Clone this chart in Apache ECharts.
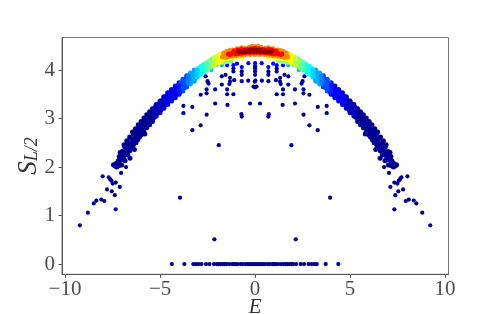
<!DOCTYPE html>
<html><head><meta charset="utf-8">
<style>html,body{margin:0;padding:0;background:#fff}#c{width:498px;height:314px}</style>
<script src="https://cdn.jsdelivr.net/npm/echarts@6/dist/echarts.min.js"></script>
</head><body><div id="c"></div>
<script>
const xTicks=[-10,-5,0,5,10];
const yTicks=[0,1,2,3,4];
const zeroRowE=[-4.38,-3.72,-3.25,-3.12,-2.98,-2.82,-2.58,-2.4,-2.16,-2.0,-1.93,-1.82,-1.7,-1.6,-1.5,-1.35,-1.2,-1.1,-1.0,-0.9,-0.75,-0.65,-0.5,-0.4,-0.3,-0.2,-0.1,0,0.1,0.2,0.3,0.4,0.5,0.65,0.75,0.9,1.0,1.1,1.2,1.35,1.5,1.6,1.7,1.82,1.93,2.0,2.16,2.4,2.58,2.82,2.98,3.12,3.25,3.72,4.38];
const sparseLeft=[[-9.22,0.80],[-8.8,1.06],[-8.49,1.25],[-8.35,1.31],[-8.09,1.33],[-7.93,1.30],[-7.79,1.54],[-8.02,1.81],[-7.7,1.79],[-7.63,1.75],[-7.56,1.72],[-7.49,1.66],[-7.33,1.68],[-7.54,1.50],[-7.12,1.59],[-7.38,1.42],[-7.33,1.13],[-7.05,1.88],[-6.79,2.0],[-3.95,1.37],[-2.14,0.51],[-1.91,2.45],[-3.3,2.76],[-2.86,2.86],[-3.77,3.26],[-3.77,3.11],[-3.3,3.24],[-2.55,3.08],[-2.1,3.31],[-1.45,3.28],[-0.72,3.09],[-0.7,3.04],[-0.26,3.31],[-2.86,3.49],[-2.55,3.6],[-2.55,3.52],[-2.1,3.6],[-1.47,3.6],[-1.47,3.5],[-1.14,3.5],[-2.6,3.87],[-2.5,3.77],[-2.45,3.72],[-1.75,3.87],[-1.75,3.7],[-1.55,3.9],[-1.32,3.84],[-1.32,3.76],[-1.35,3.71],[-1.1,3.79],[-0.7,3.77],[-0.36,3.78],[-1.14,4.03],[-1.14,3.97],[-0.7,3.97],[-0.7,3.9]];
const sparseRight=[[9.22,0.80],[8.8,1.06],[8.49,1.25],[8.35,1.31],[8.09,1.33],[7.93,1.30],[7.79,1.54],[8.02,1.81],[7.7,1.79],[7.63,1.75],[7.56,1.72],[7.49,1.66],[7.33,1.68],[7.54,1.50],[7.12,1.59],[7.38,1.42],[7.33,1.13],[7.05,1.88],[6.79,2.0],[3.95,1.37],[2.14,0.51],[1.91,2.45],[3.3,2.76],[2.86,2.86],[3.77,3.26],[3.77,3.11],[3.3,3.24],[2.55,3.08],[2.1,3.31],[1.45,3.28],[0.72,3.09],[0.7,3.04],[0.26,3.31],[2.86,3.49],[2.55,3.6],[2.55,3.52],[2.1,3.6],[1.47,3.6],[1.47,3.5],[1.14,3.5],[2.6,3.87],[2.5,3.77],[2.45,3.72],[1.75,3.87],[1.75,3.7],[1.55,3.9],[1.32,3.84],[1.32,3.76],[1.35,3.71],[1.1,3.79],[0.7,3.77],[0.36,3.78],[1.14,4.03],[1.14,3.97],[0.7,3.97],[0.7,3.9]];
const sparseCentre=[[0,3.64],[-0.08,3.66],[0.08,3.66],[-0.02,3.76],[0.02,3.78],[0,3.9],[0,3.97],[0,4.03],[0,4.08]];
const tierNavy=[[-7.45,2.05],[-7.38,2.02],[-7.3,2.08],[-7.28,2.0],[-7.2,2.13],[-7.15,2.03],[-7.1,2.15],[-7.02,2.04],[-6.98,2.25],[-6.95,2.15],[-6.88,2.28],[-6.84,2.13],[-6.8,2.3],[-6.75,2.35],[-6.7,2.25],[-6.65,2.42],[-6.6,2.33],[-6.58,2.18],[-6.52,2.48],[-6.48,2.4],[-6.42,2.55],[-6.4,2.46],[-6.35,2.36],[-6.3,2.6],[-6.27,2.5],[-6.2,2.66],[-6.18,2.56],[-6.12,2.72],[-6.08,2.62],[-6.03,2.76],[-6.0,2.68],[-5.95,2.86],[-5.92,2.75],[-5.86,2.9],[-5.83,2.8],[-5.8,2.68],[-5.75,2.94],[-5.7,2.85],[-5.65,2.98],[-5.6,2.9],[-5.55,3.05],[-5.5,2.95],[-5.45,3.08],[-5.4,3.0],[-5.35,3.12],[-5.3,3.03],
[7.45,2.05],[7.38,2.02],[7.3,2.08],[7.28,2.0],[7.2,2.13],[7.15,2.03],[7.1,2.15],[7.02,2.04],[6.98,2.25],[6.95,2.15],[6.88,2.28],[6.84,2.13],[6.8,2.3],[6.75,2.35],[6.7,2.25],[6.65,2.42],[6.6,2.33],[6.58,2.18],[6.52,2.48],[6.48,2.4],[6.42,2.55],[6.4,2.46],[6.35,2.36],[6.3,2.6],[6.27,2.5],[6.2,2.66],[6.18,2.56],[6.12,2.72],[6.08,2.62],[6.03,2.76],[6.0,2.68],[5.95,2.86],[5.92,2.75],[5.86,2.9],[5.83,2.8],[5.8,2.68],[5.75,2.94],[5.7,2.85],[5.65,2.98],[5.6,2.9],[5.55,3.05],[5.5,2.95],[5.45,3.08],[5.4,3.0],[5.35,3.12],[5.3,3.03]];
const tierNavyFill=[[-7.15,2.22],[-7.15,2.08],[-7.0,2.32],[-7.0,2.16],[-6.85,2.41],[-6.85,2.25],[-6.7,2.49],[-6.7,2.33],[-6.55,2.59],[-6.55,2.43],[-6.4,2.67],[-6.4,2.51],[-6.25,2.75],[-6.25,2.59],[-6.1,2.82],[-6.1,2.66],[-5.95,2.9],[-5.95,2.74],[-5.8,2.97],[-5.8,2.81],[-5.65,3.04],[-5.65,2.88],[-5.5,3.1],[-5.5,2.94],[-5.35,3.17],[-5.35,3.01],
[7.15,2.22],[7.15,2.08],[7.0,2.32],[7.0,2.16],[6.85,2.41],[6.85,2.25],[6.7,2.49],[6.7,2.33],[6.55,2.59],[6.55,2.43],[6.4,2.67],[6.4,2.51],[6.25,2.75],[6.25,2.59],[6.1,2.82],[6.1,2.66],[5.95,2.9],[5.95,2.74],[5.8,2.97],[5.8,2.81],[5.65,3.04],[5.65,2.88],[5.5,3.1],[5.5,2.94],[5.35,3.17],[5.35,3.01]];
const tierNavyEdge=[[-7.1,2.3],[-6.9,2.46],[-6.75,2.54],[-6.6,2.62],[-6.45,2.72],[-6.3,2.79],[-6.15,2.87],[-6.0,2.94],[-5.85,3.01],[-5.7,3.08],[-5.55,3.14],[-5.4,3.2],[-6.9,2.16],[-6.75,2.26],[-6.6,2.35],[-6.45,2.43],[-6.3,2.51],[-6.15,2.59],[-6.0,2.66],[-5.85,2.73],[-5.7,2.81],[-5.55,2.87],[-5.4,2.94],[-7.05,2.22],[-6.9,2.3],[-6.75,2.39],[-6.6,2.48],[-6.45,2.57],[-6.3,2.65],[-6.15,2.72],[-6.0,2.8],[-5.85,2.87],[-5.7,2.95],[-5.55,3.0],[-5.4,3.07],
[7.1,2.3],[6.9,2.46],[6.75,2.54],[6.6,2.62],[6.45,2.72],[6.3,2.79],[6.15,2.87],[6.0,2.94],[5.85,3.01],[5.7,3.08],[5.55,3.14],[5.4,3.2],[6.9,2.16],[6.75,2.26],[6.6,2.35],[6.45,2.43],[6.3,2.51],[6.15,2.59],[6.0,2.66],[5.85,2.73],[5.7,2.81],[5.55,2.87],[5.4,2.94],[7.05,2.22],[6.9,2.3],[6.75,2.39],[6.6,2.48],[6.45,2.57],[6.3,2.65],[6.15,2.72],[6.0,2.8],[5.85,2.87],[5.7,2.95],[5.55,3.0],[5.4,3.07]];
const tierDeep=[[-5.25,3.2],[-5.22,3.1],[-5.15,3.23],[-5.1,3.14],[-5.05,3.28],[-5.0,3.18],[-4.95,3.32],[-4.9,3.22],[-4.85,3.36],[-4.8,3.27],[-4.75,3.38],[-4.7,3.3],[-5.25,3.24],[-5.25,3.05],[-5.1,3.3],[-5.1,3.12],[-4.95,3.36],[-4.95,3.18],[-4.8,3.42],[-4.8,3.24],[-5.2,3.29],[-5.2,3.05],[-5.0,3.36],[-5.0,3.12],[-4.8,3.45],[-4.8,3.21],[-5.2,3.17],[-5.0,3.24],[-4.8,3.33],[5.25,3.2],[5.22,3.1],[5.15,3.23],[5.1,3.14],[5.05,3.28],[5.0,3.18],[4.95,3.32],[4.9,3.22],[4.85,3.36],[4.8,3.27],[4.75,3.38],[4.7,3.3],[5.25,3.24],[5.25,3.05],[5.1,3.3],[5.1,3.12],[4.95,3.36],[4.95,3.18],[4.8,3.42],[4.8,3.24],[5.2,3.29],[5.2,3.05],[5.0,3.36],[5.0,3.12],[4.8,3.45],[4.8,3.21],[5.2,3.17],[5.0,3.24],[4.8,3.33]];
const tierBlue=[[-4.65,3.42],[-4.6,3.33],[-4.55,3.46],[-4.5,3.38],[-4.45,3.49],[-4.4,3.41],[-4.35,3.53],[-4.3,3.44],[-4.25,3.56],[-4.2,3.48],[-4.15,3.59],[-4.1,3.5],[-4.05,3.62],[-4.0,3.54],[-4.65,3.47],[-4.65,3.3],[-4.5,3.53],[-4.5,3.37],[-4.35,3.58],[-4.35,3.42],[-4.2,3.63],[-4.2,3.47],[-4.05,3.68],[-4.05,3.52],[-4.6,3.53],[-4.6,3.29],[-4.4,3.6],[-4.4,3.36],[-4.2,3.67],[-4.2,3.43],[-4.0,3.74],[-4.0,3.5],[-4.6,3.41],[-4.4,3.48],[-4.2,3.55],[-4.0,3.62],[4.65,3.42],[4.6,3.33],[4.55,3.46],[4.5,3.38],[4.45,3.49],[4.4,3.41],[4.35,3.53],[4.3,3.44],[4.25,3.56],[4.2,3.48],[4.15,3.59],[4.1,3.5],[4.05,3.62],[4.0,3.54],[4.65,3.47],[4.65,3.3],[4.5,3.53],[4.5,3.37],[4.35,3.58],[4.35,3.42],[4.2,3.63],[4.2,3.47],[4.05,3.68],[4.05,3.52],[4.6,3.53],[4.6,3.29],[4.4,3.6],[4.4,3.36],[4.2,3.67],[4.2,3.43],[4.0,3.74],[4.0,3.5],[4.6,3.41],[4.4,3.48],[4.2,3.55],[4.0,3.62]];
const tierAzure=[[-3.95,3.7],[-3.9,3.6],[-3.82,3.74],[-3.78,3.64],[-3.7,3.78],[-3.65,3.68],[-3.58,3.81],[-3.55,3.72],[-3.9,3.73],[-3.9,3.57],[-3.75,3.79],[-3.75,3.63],[-3.6,3.84],[-3.6,3.68],[-3.8,3.81],[-3.8,3.57],[-3.6,3.88],[-3.6,3.65],[-3.8,3.69],[-3.6,3.76],[3.95,3.7],[3.9,3.6],[3.82,3.74],[3.78,3.64],[3.7,3.78],[3.65,3.68],[3.58,3.81],[3.55,3.72],[3.9,3.73],[3.9,3.57],[3.75,3.79],[3.75,3.63],[3.6,3.84],[3.6,3.68],[3.8,3.81],[3.8,3.57],[3.6,3.88],[3.6,3.65],[3.8,3.69],[3.6,3.76]];
const tierSky=[[-3.48,3.85],[-3.42,3.76],[-3.35,3.89],[-3.3,3.8],[-3.22,3.92],[-3.16,3.83],[-3.08,3.97],[-3.05,3.87],[-3.45,3.89],[-3.45,3.74],[-3.3,3.93],[-3.3,3.78],[-3.15,3.98],[-3.15,3.83],[-3.4,3.94],[-3.4,3.71],[-3.2,4.0],[-3.2,3.77],[-3.4,3.83],[-3.2,3.88],[3.48,3.85],[3.42,3.76],[3.35,3.89],[3.3,3.8],[3.22,3.92],[3.16,3.83],[3.08,3.97],[3.05,3.87],[3.45,3.89],[3.45,3.74],[3.3,3.93],[3.3,3.78],[3.15,3.98],[3.15,3.83],[3.4,3.94],[3.4,3.71],[3.2,4.0],[3.2,3.77],[3.4,3.83],[3.2,3.88]];
const tierCyan=[[-2.98,4.0],[-2.95,3.91],[-2.88,4.03],[-2.82,3.95],[-2.75,4.06],[-2.7,3.98],[-2.62,4.09],[-2.58,4.0],[-3.0,4.03],[-3.0,3.88],[-2.85,4.07],[-2.85,3.92],[-2.7,4.11],[-2.7,3.96],[-3.0,3.95],[-2.8,4.0],[-2.6,4.06],[2.98,4.0],[2.95,3.91],[2.88,4.03],[2.82,3.95],[2.75,4.06],[2.7,3.98],[2.62,4.09],[2.58,4.0],[3.0,4.03],[3.0,3.88],[2.85,4.07],[2.85,3.92],[2.7,4.11],[2.7,3.96],[3.0,3.95],[2.8,4.0],[2.6,4.06]];
const tierGreen=[[-2.52,4.12],[-2.48,4.04],[-2.42,4.15],[-2.38,4.07],[-2.3,4.18],[-2.25,4.1],[-2.18,4.21],[-2.15,4.12],[-1.9,4.14],[-1.7,4.16],[-1.5,4.17],[-1.25,4.19],[-2.55,4.15],[-2.55,4.0],[-2.4,4.19],[-2.4,4.04],[-2.25,4.23],[-2.25,4.08],[-2.4,4.11],[-2.2,4.16],[2.52,4.12],[2.48,4.04],[2.42,4.15],[2.38,4.07],[2.3,4.18],[2.25,4.1],[2.18,4.21],[2.15,4.12],[1.9,4.14],[1.7,4.16],[1.5,4.17],[1.25,4.19],[2.55,4.15],[2.55,4.0],[2.4,4.19],[2.4,4.04],[2.25,4.23],[2.25,4.08],[2.4,4.11],[2.2,4.16]];
const tierYellow=[[-2.1,4.24],[-2.05,4.16],[-1.98,4.26],[-1.92,4.19],[-1.85,4.29],[-1.78,4.2],[-1.7,4.31],[-1.62,4.22],[-1.45,4.24],[-1.25,4.25],[-1.0,4.26],[-0.7,4.27],[-2.1,4.27],[-2.1,4.12],[-1.95,4.3],[-1.95,4.15],[-1.8,4.33],[-1.8,4.17],[-2.0,4.2],[-1.8,4.24],[2.1,4.24],[2.05,4.16],[1.98,4.26],[1.92,4.19],[1.85,4.29],[1.78,4.2],[1.7,4.31],[1.62,4.22],[1.45,4.24],[1.25,4.25],[1.0,4.26],[0.7,4.27],[2.1,4.27],[2.1,4.12],[1.95,4.3],[1.95,4.15],[1.8,4.33],[1.8,4.17],[2.0,4.2],[1.8,4.24]];
const tierOrange=[[-1.72,4.27],[-1.62,4.32],[-1.55,4.26],[-1.45,4.35],[-1.38,4.28],[-1.28,4.37],[-1.18,4.29],[-1.05,4.4],[-0.95,4.3],[-0.8,4.43],[-0.7,4.31],[-0.5,4.32],[-0.55,4.45],[-0.25,4.32],[-0.3,4.47],[0,4.32],[0,4.48],[-1.65,4.35],[-1.5,4.38],[-1.35,4.4],[-1.2,4.41],[-0.95,4.44],[-0.7,4.46],[-0.15,4.49],[0.15,4.49],[0.7,4.46],[0.95,4.44],[1.2,4.41],[1.35,4.4],[1.5,4.38],[1.65,4.35],[1.72,4.27],[1.62,4.32],[1.55,4.26],[1.45,4.35],[1.38,4.28],[1.28,4.37],[1.18,4.29],[1.05,4.4],[0.95,4.3],[0.8,4.43],[0.7,4.31],[0.5,4.32],[0.55,4.45],[0.25,4.32],[0.3,4.47]];
const tierRed=[[-1.32,4.32],[-1.22,4.34],[-1.12,4.36],[-1.02,4.33],[-0.95,4.37],[-0.85,4.34],[-0.78,4.39],[-0.7,4.35],[-0.6,4.41],[-0.5,4.36],[-0.42,4.43],[-0.3,4.36],[-0.2,4.44],[-0.1,4.36],[0,4.45],[0.1,4.36],[0.2,4.44],[0.3,4.36],[0.42,4.43],[0.5,4.36],[0.6,4.41],[0.7,4.35],[0.78,4.39],[0.85,4.34],[0.95,4.37],[1.02,4.33],[1.12,4.36],[1.22,4.34],[1.32,4.32],[-1.4,4.33],[-1.1,4.39],[-0.9,4.41],[-0.72,4.43],[0.72,4.43],[0.9,4.41],[1.1,4.39],[1.4,4.33]];
const tierDark=[[-0.85,4.38],[-0.72,4.38],[-0.62,4.37],[-0.52,4.39],[-0.42,4.38],[-0.32,4.4],[-0.22,4.39],[-0.12,4.41],[-0.02,4.39],[0.08,4.41],[0.18,4.39],[0.28,4.4],[0.38,4.38],[0.48,4.39],[0.58,4.37],[0.68,4.38],[0.85,4.38]];
const blendAzure=[[-4.02,3.6],[-4.02,3.68],[-3.98,3.54],[4.02,3.6],[4.02,3.68],[3.98,3.54]];
const blendSky=[[-3.52,3.8],[-3.52,3.74],[-3.5,3.87],[3.52,3.8],[3.52,3.74],[3.5,3.87]];
const blendCyan=[[-3.06,3.93],[-3.06,3.86],[-3.04,4.0],[3.06,3.93],[3.06,3.86],[3.04,4.0]];
const blendGreen=[[-2.58,4.06],[-2.58,3.99],[-2.56,4.13],[2.58,4.06],[2.58,3.99],[2.56,4.13]];
const blendYellow=[[-2.14,4.17],[-2.14,4.1],[-2.12,4.25],[2.14,4.17],[2.14,4.1],[2.12,4.25]];
const sparseTopBlue=[[-1.14,4.1],[-0.95,4.13],[-0.7,4.06],[-0.35,4.14],[0,4.14],[0.35,4.14],[0.7,4.06],[0.95,4.13],[1.14,4.1],[-1.47,4.1],[1.47,4.1]];
const sparseTopCyan=[[-2.3,4.0],[-2.05,4.1],[-1.75,4.1],[2.3,4.0],[2.05,4.1],[1.75,4.1]];

const sparseData=[],bandData=[];
const add=(out,list,level)=>list.forEach(p=>out.push([p[0],p[1],level]));
add(sparseData,zeroRowE.map(e=>[e,0]),0.02);
add(sparseData,sparseLeft,0.02);add(sparseData,sparseRight,0.02);add(sparseData,sparseCentre,0.02);
add(sparseData,sparseTopBlue,0.13);add(sparseData,sparseTopCyan,0.3);
add(bandData,tierNavy,0.02);add(bandData,tierNavyFill,0.02);add(bandData,tierNavyEdge,0.02);add(bandData,tierDeep,0.06);add(bandData,tierBlue,0.11);add(bandData,tierAzure,0.2);
add(bandData,tierSky,0.29);add(bandData,tierCyan,0.38);add(bandData,tierGreen,0.5);add(bandData,tierYellow,0.62);
add(bandData,blendAzure,0.15);add(bandData,blendSky,0.25);add(bandData,blendCyan,0.33);add(bandData,blendGreen,0.44);add(bandData,blendYellow,0.56);
add(bandData,tierOrange,0.74);add(bandData,tierRed,0.87);add(bandData,tierDark,0.98);

const fmt=v=>String(v).replace('-','\u2212');
const tickFont={fontFamily:'"Liberation Serif",serif',fontSize:21,color:'#4d4d4d'};
const chart=echarts.init(document.getElementById('c'),null,{renderer:'canvas'});
chart.setOption({
 animation:false,
 backgroundColor:'#fff',
 grid:{left:62,top:37.5,width:386.5,height:236.8,show:true,borderColor:'#777',borderWidth:1,backgroundColor:'transparent',outerBoundsMode:'none',containLabel:false},
 xAxis:{type:'value',min:-10.16,max:10.18,splitLine:{show:false},
  axisLine:{onZero:false,lineStyle:{color:'#555',width:1}},
  axisTick:{show:true,length:3.5,lineStyle:{color:'#555'},customValues:xTicks},
  axisLabel:{...tickFont,margin:5,customValues:xTicks,formatter:fmt},
  name:'E',nameLocation:'middle',nameGap:23,nameMoveOverlap:false,
  nameTextStyle:{fontFamily:'"Liberation Serif",serif',fontStyle:'italic',fontSize:21,color:'#333'}},
 yAxis:{type:'value',min:-0.21,max:4.67,splitLine:{show:false},
  axisLine:{onZero:false,lineStyle:{color:'#555',width:1}},
  axisTick:{show:true,length:3.5,lineStyle:{color:'#555'},customValues:yTicks},
  axisLabel:{...tickFont,margin:7,customValues:yTicks,formatter:fmt},
  name:'{s|S}{b|L/2}',nameLocation:'middle',nameGap:20,nameRotate:90,nameMoveOverlap:false,
  nameTextStyle:{rich:{
   s:{fontFamily:'"Liberation Serif",serif',fontStyle:'italic',fontSize:27,color:'#333'},
   b:{fontFamily:'"Liberation Serif",serif',fontStyle:'italic',fontSize:18,color:'#333',padding:[8,0,0,0]}}}},
 visualMap:{show:false,type:'continuous',dimension:2,min:0,max:1,seriesIndex:[0,1],
  inRange:{color:['#00007f','#0000ff','#007fff','#00ffff','#7fff7f','#ffff00','#ff7f00','#ff0000','#7f0000']}},
 series:[
  {type:'scatter',data:sparseData,symbol:'circle',symbolSize:4.2,silent:true,progressive:0,large:false,itemStyle:{opacity:1}},
  {type:'scatter',data:bandData,symbol:'circle',symbolSize:5,silent:true,progressive:0,large:false,itemStyle:{opacity:1}}
 ]
});
</script></body></html>
